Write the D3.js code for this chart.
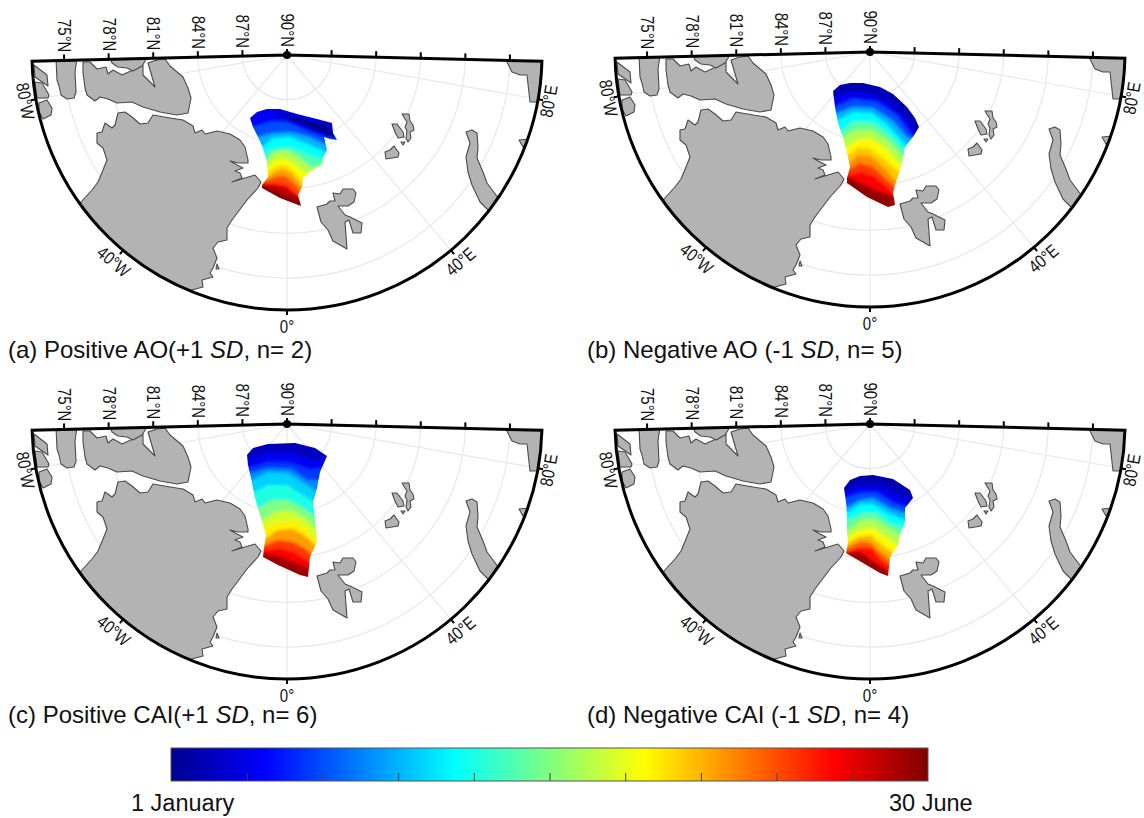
<!DOCTYPE html>
<html>
<head>
<meta charset="utf-8">
<script src="https://cdn.jsdelivr.net/npm/d3@7"></script>
<style>
  html, body { margin: 0; padding: 0; background: #fff; }
  svg { display: block; }
  text { font-family: "Liberation Sans", Arial, sans-serif; fill: #111; }
</style>
</head>
<body>
<script>
// ---- chart values, all read off the picture ----
// map units are the pixels of panel (a)
var latTicks = [75, 78, 81, 84, 87, 90];
var latLabels = ['75°N', '78°N', '81°N', '84°N', '87°N', '90°N'];
var lonTicks = [-80, -40, 0, 40, 80];
var lonLabels = ['80°W', '40°W', '0°', '40°E', '80°E'];
var gratLats = [75, 78, 81, 84, 87];

var captions = [
  ['(a) Positive AO(+1 ', 'SD', ', n= 2)'],
  ['(b) Negative AO (-1 ', 'SD', ', n= 5)'],
  ['(c) Positive CAI(+1 ', 'SD', ', n= 6)'],
  ['(d) Negative CAI (-1 ', 'SD', ', n= 4)']
];
var colorbarLabels = ['1 January', '30 June'];
var colorbarTicks = [0.1, 0.2, 0.3, 0.4, 0.5, 0.6, 0.7, 0.8, 0.9];
var jetStops = [0, 0.125, 0.375, 0.625, 0.875, 1];
var jetColors = ['#000090', '#0000ff', '#00ffff', '#ffff00', '#ff0000', '#800000'];

var landPolys = [
  [[34,65],[47,75],[48,86],[35,77]],
  [[35,82],[42,83],[49,95],[48,98],[37,98]],
  [[39,103],[47,100],[52,108],[51,115],[43,119],[39,112]],
  [[56,58],[77,58],[75,72],[76,92],[74,98],[67,99],[61,95],[59,86],[57,80]],
  [[83,62],[90,62],[97,69],[106,67],[108,74],[113,70],[122,75],[133,70],[143,65],[143,75],[155,87],[148,63],[157,60],[165,59],
   [170,66],[183,77],[188,88],[191,98],[188,113],[177,115],[160,112],[143,107],[132,102],[117,103],[108,99],[100,97],[95,101],[87,95],[85,88],[83,73]],
  [[110,58],[147,58],[142,66],[133,71],[127,68],[118,67],[112,63]],
  [[118,113],[125,112],[132,117],[140,124],[148,123],[153,115],[170,118],[183,120],[193,126],[195,133],[202,130],[205,134],
   [217,131],[230,134],[240,140],[245,147],[248,160],[248,163],[238,163],[230,161],[237,165],[243,168],[235,171],[240,173],
   [242,178],[232,182],[245,178],[255,175],[261,182],[258,188],[247,200],[238,212],[232,220],[227,228],[227,240],[218,242],
   [213,248],[217,258],[213,268],[210,273],[213,277],[202,280],[203,287],[188,291],[170,320],[60,240],[81,202],[92,190],
   [98,182],[103,170],[107,160],[103,148],[97,143],[97,133],[102,132],[105,123],[112,128],[115,125]],
  [[217,264],[219,269],[216,269]],
  [[505,58],[545,58],[545,83],[538,102],[530,102],[527,75],[520,75],[512,72]],
  [[519,140],[530,139],[523,147]],
  [[466,132],[472,130],[477,133],[478,147],[477,158],[483,172],[487,183],[499,199],[489,211],[480,202],[472,185],[468,172],[466,157],[470,143]],
  [[402,114],[409,114],[410,121],[413,125],[414,130],[410,132],[411,138],[408,142],[406,138],[407,131],[405,127],[407,122]],
  [[392,124],[397,124],[403,132],[404,137],[398,138],[395,132]],
  [[385,152],[390,150],[394,146],[399,153],[398,157],[392,158],[386,159]],
  [[401,142],[405,142],[403,145]],
  [[317,207],[327,204],[330,201],[335,201],[333,193],[340,194],[343,189],[353,189],[356,193],[354,202],[348,206],[338,206],
   [345,215],[350,217],[362,223],[361,233],[353,233],[349,220],[345,222],[347,249],[333,241],[328,230],[321,222]]
];

// drift area outline per panel
var outlineA = [[250,118],[257,112],[267,109],[280,109],[297,114],[317,119],[332,123],[333,133],[337,140],[330,139],[324,137],[327,150],[323,158],[322,165],[312,170],[303,178],[302,187],[298,195],[301,206],[280,198],[262,188],[262,185],[268,177],[267,162],[263,148],[258,137],[253,127]];
var outlineB = [[250,94],[257,88],[267,86],[280,86],[297,90],[310,97],[324,110],[332,121],[336,130],[330,140],[326,145],[322,150],[320,161],[317,173],[312,188],[310,196],[312,208],[305,210],[284,200],[264,186],[264,181],[267,170],[265,160],[260,140],[255,126],[252,110]];
var outlineC = [[247,86],[253,79],[268,75],[295,74],[315,79],[327,87],[320,103],[317,119],[313,133],[315,149],[317,173],[310,188],[308,208],[300,206],[278,196],[263,188],[264,179],[266,166],[261,149],[255,129],[251,109],[248,96]];
var outlineD = [[261,119],[267,111],[277,107],[290,106],[310,110],[327,121],[330,129],[322,139],[322,153],[317,166],[315,176],[310,183],[307,189],[305,207],[297,204],[280,194],[263,184],[265,174],[264,163],[264,146],[263,133]];

// fraction of the season reached, then the line where it is reached
var isochronesA = [
  [0.11, []],
  [0.2, [[253,127],[270,122],[287,122],[310,132],[327,138]]],
  [0.3, [[258,137],[273,133],[290,132],[310,137],[327,145]]],
  [0.38, [[262,147],[273,138],[290,137],[310,145],[328,153]]],
  [0.45, [[263,155],[275,148],[293,148],[310,155],[325,160]]],
  [0.55, [[266,162],[273,152],[287,150],[300,158],[312,168],[323,163]]],
  [0.62, [[266,168],[275,160],[283,158],[293,163],[305,173],[312,170]]],
  [0.66, [[267,173],[275,166],[282,164],[290,167],[302,179],[305,177]]],
  [0.72, [[268,177],[275,171],[283,169],[292,173],[301,185]]],
  [0.8, [[267,180],[277,176],[285,176],[293,182],[300,190]]],
  [0.87, [[263,183],[273,183],[287,185],[298,195]]],
  [0.95, [[262,184],[273,185],[285,188],[298,197]]],
  [1, [[262,186],[280,194],[301,202]]]
];
var isochronesB = [
  [0.04, []],
  [0.11, [[250,101],[267,95],[287,96],[307,106],[324,123],[334,138]]],
  [0.2, [[252,110],[270,102],[294,105],[314,118],[330,140]]],
  [0.3, [[254,116],[270,110],[290,111],[309,123],[325,141]]],
  [0.38, [[255,123],[270,115],[289,116],[305,128],[323,148]]],
  [0.47, [[258,135],[270,125],[289,125],[305,136],[321,153]]],
  [0.55, [[260,141],[272,133],[289,133],[304,143],[320,160]]],
  [0.63, [[263,151],[274,143],[287,141],[302,151],[319,170]]],
  [0.68, [[265,158],[274,151],[285,151],[300,161],[317,176]]],
  [0.74, [[267,165],[275,158],[287,159],[300,170],[314,185]]],
  [0.82, [[265,173],[277,166],[290,170],[302,181],[312,190]]],
  [0.88, [[265,178],[279,175],[292,180],[304,190],[311,197]]],
  [0.98, [[264,180],[280,187],[294,194],[310,199]]]
];
var isochronesC = [
  [0.05, []],
  [0.11, [[248,91],[268,83],[295,84],[315,91],[324,89]]],
  [0.18, [[249,99],[268,93],[292,94],[310,101],[321,99]]],
  [0.26, [[250,104],[268,99],[292,100],[307,111],[318,111]]],
  [0.33, [[252,111],[268,103],[288,104],[307,116],[317,123]]],
  [0.4, [[254,123],[268,116],[287,116],[303,126],[314,133]]],
  [0.5, [[259,139],[272,131],[288,131],[303,139],[313,146]]],
  [0.58, [[263,151],[275,143],[290,141],[305,149],[315,159]]],
  [0.64, [[264,159],[277,153],[292,151],[307,159],[316,173]]],
  [0.72, [[266,169],[278,161],[293,160],[308,169],[317,178]]],
  [0.82, [[265,176],[278,171],[293,173],[307,181],[312,186]]],
  [0.88, [[264,181],[280,179],[293,183],[307,191],[310,193]]],
  [0.97, [[263,184],[278,187],[293,193],[308,199]]]
];
var isochronesD = [
  [0.03, []],
  [0.07, [[261,121],[277,112],[294,113],[312,119],[329,129]]],
  [0.13, [[262,124],[277,119],[294,119],[312,128],[327,134]]],
  [0.2, [[263,129],[277,124],[294,124],[310,134],[324,138]]],
  [0.3, [[264,138],[277,131],[290,129],[307,139],[322,144]]],
  [0.38, [[265,143],[277,135],[290,135],[305,144],[322,151]]],
  [0.47, [[265,151],[279,144],[294,144],[307,154],[321,159]]],
  [0.55, [[265,161],[279,151],[292,151],[305,159],[317,166]]],
  [0.63, [[265,168],[277,161],[290,159],[302,168],[315,176]]],
  [0.7, [[265,174],[275,168],[287,166],[299,176],[310,184]]],
  [0.78, [[265,178],[277,172],[287,173],[297,183],[307,191]]],
  [0.86, [[264,182],[277,178],[289,179],[297,189],[306,196]]],
  [0.97, [[263,184],[277,183],[290,192],[305,202]]]
];
// the dark streak on the upper edge of panel (a)
var streakA = [[275,112],[297,117],[331,125],[333,133],[338,141],[327,135],[303,125],[287,119]];

var panels = [
  {origin: [287, 55], outline: outlineA, isochrones: isochronesA, streak: streakA, capX: 8, capY: 358},
  {origin: [870, 52], outline: outlineB, isochrones: isochronesB, streak: null, capX: 587, capY: 358},
  {origin: [287, 424], outline: outlineC, isochrones: isochronesC, streak: null, capX: 8, capY: 723},
  {origin: [870, 424], outline: outlineD, isochrones: isochronesD, streak: null, capX: 587, capY: 723}
];

// ---- scales ----
var width = 1144;
var height = 818;
var mapRadius = 255;
var lonLimit = 88.6;

var jet = d3.scaleLinear().domain(jetStops).range(jetColors);
var radius = d3.scaleLinear().domain([90, 75]).range([0, 223]);
var mapX = d3.scaleLinear().domain([287 - mapRadius, 287 + mapRadius]).range([-mapRadius, mapRadius]);
var mapY = d3.scaleLinear().domain([55, 55 + mapRadius]).range([0, mapRadius]);
var mapLine = d3.line().x(d => mapX(d[0])).y(d => mapY(d[1]));
// labels sit further out at the bottom of the arc than at its ends
var lonLabelGap = d3.scaleLinear().domain([0, 40, 80]).range([17, 15, 11]);

var toRad = Math.PI / 180;
var polar = function(lon, r) {
  return [r * Math.sin(lon * toRad), r * Math.cos(lon * toRad)];
}

var wedge = d3.arc()
  .innerRadius(0)
  .outerRadius(mapRadius)
  .startAngle(Math.PI - lonLimit * toRad)
  .endAngle(Math.PI + lonLimit * toRad);

var svg = d3.select('body').append('svg')
  .attr('width', width)
  .attr('height', height);

var defs = svg.append('defs');
defs.append('clipPath').attr('id', 'mapClip').append('path').attr('d', wedge());
var blur = defs.append('filter').attr('id', 'soft')
  .attr('x', '-20%').attr('y', '-20%').attr('width', '140%').attr('height', '140%');
blur.append('feGaussianBlur').attr('stdDeviation', 1.4);
var edgeBlur = defs.append('filter').attr('id', 'edgeSoft')
  .attr('x', '-20%').attr('y', '-20%').attr('width', '140%').attr('height', '140%');
edgeBlur.append('feGaussianBlur').attr('stdDeviation', 0.5);

// closes one isochrone around the bottom of the drift area
var bandPath = function(points) {
  var first = points[0];
  var last = points[points.length - 1];
  var ring = [[first[0] - 50, first[1]]].concat(points, [[last[0] + 50, last[1]], [last[0] + 50, 300], [first[0] - 50, 300]]);
  return mapLine(ring) + 'Z';
}

var drawPanel = function(panel, i) {
  var g = svg.append('g')
    .attr('class', 'panel')
    .attr('transform', 'translate(' + panel.origin[0] + ',' + panel.origin[1] + ')');

  var inside = g.append('g').attr('clip-path', 'url(#mapClip)');

  // graticule
  inside.selectAll('.latCircle')
    .data(gratLats)
    .enter().append('circle')
    .attr('class', 'latCircle')
    .attr('r', d => radius(d))
    .attr('fill', 'none')
    .attr('stroke', '#e8e8e8')
    .attr('stroke-width', 1.2);

  inside.selectAll('.lonLine')
    .data(lonTicks)
    .enter().append('line')
    .attr('class', 'lonLine')
    .attr('x2', d => polar(d, mapRadius)[0])
    .attr('y2', d => polar(d, mapRadius)[1])
    .attr('stroke', '#e8e8e8')
    .attr('stroke-width', 1.2);

  // land
  inside.selectAll('.land')
    .data(landPolys)
    .enter().append('path')
    .attr('class', 'land')
    .attr('d', d => mapLine(d) + 'Z')
    .attr('fill', '#b3b3b3')
    .attr('stroke', '#4a4a4a')
    .attr('stroke-width', 1.1)
    .attr('stroke-linejoin', 'round');

  // drift area
  var clipId = 'drift' + i;
  defs.append('clipPath').attr('id', clipId).append('path').attr('d', mapLine(panel.outline) + 'Z');

  var drift = g.append('g').attr('filter', 'url(#edgeSoft)')
    .append('g').attr('clip-path', 'url(#' + clipId + ')')
    .append('g').attr('filter', 'url(#soft)');

  drift.selectAll('.band')
    .data(panel.isochrones)
    .enter().append('path')
    .attr('class', 'band')
    .attr('d', d => d[1].length ? bandPath(d[1]) : mapLine(panel.outline) + 'Z')
    .attr('fill', d => jet(d[0]))
    .attr('stroke', d => d[1].length ? 'none' : jet(d[0]))
    .attr('stroke-width', 8);

  if (panel.streak) {
    drift.append('path')
      .attr('d', mapLine(panel.streak) + 'Z')
      .attr('fill', jet(0));
  }

  // frame
  g.append('path')
    .attr('d', wedge())
    .attr('fill', 'none')
    .attr('stroke', '#000')
    .attr('stroke-width', 3)
    .attr('stroke-linejoin', 'miter');

  g.append('circle').attr('r', 4).attr('fill', '#000');

  // latitude ticks along the top left edge
  var topTicks = g.selectAll('.latTick')
    .data(latTicks)
    .enter().append('g')
    .attr('class', 'latTick')
    .attr('transform', d => {
      var p = polar(-lonLimit, radius(d));
      return 'translate(' + p[0] + ',' + p[1] + ')';
    });

  topTicks.append('line')
    .attr('y2', -6)
    .attr('stroke', '#000')
    .attr('stroke-width', 2);

  // the labels in the figure are a little stretched across the baseline
  topTicks.append('text')
    .attr('transform', 'translate(0,-8) rotate(90) scale(1,1.2)')
    .attr('text-anchor', 'end')
    .attr('dominant-baseline', 'central')
    .style('font-size', '15px')
    .text((d, j) => latLabels[j]);

  // matching ticks on the right hand side, no labels there
  g.selectAll('.latTickE')
    .data(latTicks.slice(0, 5))
    .enter().append('line')
    .attr('class', 'latTickE')
    .attr('x1', d => polar(lonLimit, radius(d))[0])
    .attr('x2', d => polar(lonLimit, radius(d))[0])
    .attr('y1', d => polar(lonLimit, radius(d))[1])
    .attr('y2', d => polar(lonLimit, radius(d))[1] - 6)
    .attr('stroke', '#000')
    .attr('stroke-width', 2);

  // longitude ticks and labels
  g.selectAll('.lonTick')
    .data(lonTicks)
    .enter().append('line')
    .attr('class', 'lonTick')
    .attr('x1', d => polar(d, mapRadius)[0])
    .attr('y1', d => polar(d, mapRadius)[1])
    .attr('x2', d => polar(d, mapRadius + 5)[0])
    .attr('y2', d => polar(d, mapRadius + 5)[1])
    .attr('stroke', '#000')
    .attr('stroke-width', 2);

  g.selectAll('.lonLabel')
    .data(lonTicks)
    .enter().append('text')
    .attr('class', 'lonLabel')
    .attr('transform', d => {
      var p = polar(d, mapRadius + lonLabelGap(Math.abs(d)));
      return 'translate(' + p[0] + ',' + p[1] + ') rotate(' + (-d) + ') scale(1,1.2)';
    })
    .attr('text-anchor', 'middle')
    .attr('dominant-baseline', 'central')
    .style('font-size', '15px')
    .text((d, j) => lonLabels[j]);

  // caption
  var caption = svg.append('text')
    .attr('x', panel.capX)
    .attr('y', panel.capY)
    .style('font-size', '24px');
  caption.append('tspan').text(captions[i][0]);
  caption.append('tspan').style('font-style', 'italic').text(captions[i][1]);
  caption.append('tspan').text(captions[i][2]);
}

panels.forEach(drawPanel);

// ---- colour bar ----
var barX = d3.scaleLinear().domain([0, 1]).range([171, 928]);
var barTop = 748;
var barHeight = 33;

var barGrad = defs.append('linearGradient').attr('id', 'jetGrad');
barGrad.selectAll('stop')
  .data(jetStops)
  .enter().append('stop')
  .attr('offset', d => d)
  .attr('stop-color', d => jet(d));

svg.append('rect')
  .attr('x', barX(0))
  .attr('y', barTop)
  .attr('width', barX(1) - barX(0))
  .attr('height', barHeight)
  .attr('fill', 'url(#jetGrad)')
  .attr('stroke', '#555')
  .attr('stroke-width', 1);

var barAxis = svg.append('g')
  .attr('transform', 'translate(0,' + (barTop + barHeight) + ')')
  .call(d3.axisBottom(barX).tickValues(colorbarTicks).tickSize(-8).tickFormat(''));
barAxis.select('.domain').remove();
barAxis.selectAll('.tick line').attr('stroke', '#444');

svg.selectAll('.barLabel')
  .data(colorbarLabels)
  .enter().append('text')
  .attr('class', 'barLabel')
  .attr('x', (d, i) => i == 0 ? 131 : 889)
  .attr('y', 811)
  .style('font-size', '23.5px')
  .text(d => d);
</script>
</body>
</html>
